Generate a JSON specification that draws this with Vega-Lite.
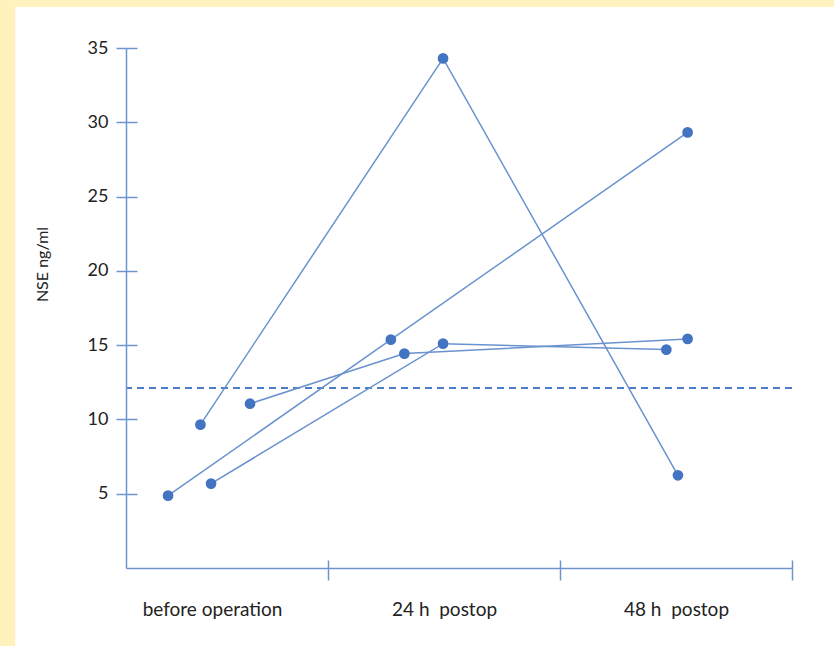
{
  "$schema": "https://vega.github.io/schema/vega-lite/v6.json",
  "autosize": {"type": "none"},
  "width": 666,
  "height": 520,
  "padding": {"left": 126, "top": 48, "right": 42, "bottom": 78},
  "background": "#FFF2BD",
  "config": {"view": {"stroke": null}, "font": "Lato"},
  "data": {
    "values": [
      {"patient": "A", "time": -1.2, "nse": 9.65},
      {"patient": "A", "time": 23.9, "nse": 34.3},
      {"patient": "A", "time": 48.2, "nse": 6.24},
      {"patient": "B", "time": -4.55, "nse": 4.87},
      {"patient": "B", "time": 18.5, "nse": 15.37},
      {"patient": "B", "time": 49.2, "nse": 29.32},
      {"patient": "C", "time": 3.93, "nse": 11.06},
      {"patient": "C", "time": 19.9, "nse": 14.43},
      {"patient": "C", "time": 49.2, "nse": 15.42},
      {"patient": "D", "time": -0.1, "nse": 5.68},
      {"patient": "D", "time": 23.9, "nse": 15.1},
      {"patient": "D", "time": 47.0, "nse": 14.7}
    ]
  },
  "resolve": {"axis": {"x": "independent", "y": "independent"}},
  "layer": [
    {
      "mark": {"type": "rect", "color": "white", "clip": false},
      "encoding": {
        "x": {"datum": -20.3, "type": "quantitative", "scale": {"domain": [-8.9, 60], "nice": false, "zero": false}, "axis": null},
        "x2": {"datum": 90},
        "y": {"datum": -12, "type": "quantitative", "scale": {"domain": [0, 35], "nice": false}, "axis": null},
        "y2": {"datum": 37.76}
      }
    },
    {
      "mark": {"type": "rule", "color": "#4B7DC6", "strokeWidth": 1.5, "strokeDash": [7, 5]},
      "encoding": {
        "y": {
          "datum": 12.12,
          "type": "quantitative",
          "axis": {
            "zindex": 1,
            "orient": "left",
            "values": [5, 10, 15, 20, 25, 30, 35],
            "title": "NSE ng/ml",
            "titleFont": "Lato",
            "titleFontSize": 16,
            "titleFontWeight": "normal",
            "titleColor": "#222222",
            "titleAngle": -90,
            "titleX": -79,
            "titleY": 216,
            "titleAlign": "center",
            "titleBaseline": "alphabetic",
            "grid": false,
            "domainColor": "#6D94CF",
            "domainWidth": 1.5,
            "tickColor": "#6D94CF",
            "tickWidth": 1.5,
            "tickSize": 10,
            "labelFont": "Lato",
            "labelFontSize": 18,
            "labelColor": "#222222",
            "labelPadding": 8
          }
        }
      }
    },
    {
      "mark": {"type": "line", "color": "#6A92CF", "strokeWidth": 1.5},
      "encoding": {
        "x": {
          "field": "time",
          "type": "quantitative",
          "axis": {
            "zindex": 1,
            "orient": "bottom",
            "values": [12, 36, 60],
            "labelExpr": "datum.value == 12 ? 'before operation' : datum.value == 36 ? '24 h\u00a0 postop' : '48 h\u00a0 postop'",
            "labelOffset": -116,
            "labelFlush": false,
            "labelBound": false,
            "labelOverlap": false,
            "title": null,
            "grid": false,
            "domainColor": "#6D94CF",
            "domainWidth": 1.5,
            "tickColor": "#6D94CF",
            "tickWidth": 1.5,
            "tickSize": 12,
            "labelFont": "Lato",
            "labelFontSize": 19,
            "labelColor": "#222222",
            "labelPadding": 20
          }
        },
        "y": {"field": "nse", "type": "quantitative", "axis": null},
        "detail": {"field": "patient"},
        "order": {"field": "time"}
      }
    },
    {
      "mark": {"type": "point", "filled": true, "color": "#4374C1", "opacity": 1, "size": 115},
      "encoding": {
        "x": {
          "field": "time",
          "type": "quantitative",
          "axis": {
            "zindex": 1,
            "orient": "bottom",
            "values": [12, 36, 60],
            "labels": false,
            "domain": false,
            "grid": false,
            "title": null,
            "tickColor": "#6D94CF",
            "tickWidth": 1.5,
            "tickSize": -8
          }
        },
        "y": {
          "field": "nse",
          "type": "quantitative",
          "axis": {
            "zindex": 1,
            "orient": "left",
            "values": [5, 10, 15, 20, 25, 30, 35],
            "labels": false,
            "domain": false,
            "grid": false,
            "title": null,
            "tickColor": "#6D94CF",
            "tickWidth": 1.5,
            "tickSize": -11
          }
        }
      }
    }
  ]
}
